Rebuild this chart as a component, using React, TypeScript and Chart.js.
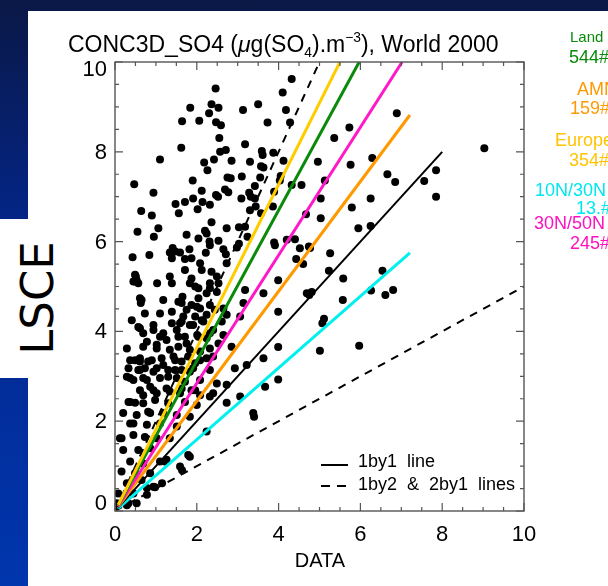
import React, { useEffect, useRef } from 'react';
import { Chart, registerables } from 'chart.js';
Chart.register(...registerables);

const obsX = [
  4.32, 2.46, 4.10, 2.36, 2.53, 1.84, 3.50, 3.13, 4.18, 2.30, 1.64, 2.06, 2.47, 2.59, 3.73, 4.28, 2.55, 3.18, 1.62, 2.57,
  2.71, 3.59, 3.61, 3.87, 1.10, 2.18, 2.42, 2.85, 3.30, 3.57, 3.63, 4.12, 2.26, 0.47, 1.90, 2.75, 2.83, 3.10, 3.55, 4.05,
  4.03, 4.32, 4.56, 2.69, 2.77, 3.42, 0.94, 2.12, 3.28, 3.89, 2.47, 2.52, 3.09, 3.32, 3.42, 1.91, 1.71, 1.48, 2.14, 2.32,
  0.64, 2.02, 1.56, 0.90, 3.30, 3.44, 3.57, 3.86, 2.36, 1.06, 0.55, 2.73, 3.03, 3.18, 3.24, 0.95, 1.75, 2.20, 2.24, 2.04,
  2.31, 2.53, 2.32, 0.43, 0.84, 1.41, 1.47, 1.59, 1.82, 1.34, 2.22, 2.65, 2.71, 2.98, 3.03, 3.89, 3.91, 4.20, 4.40, 4.74,
  4.43, 1.71, 1.87,
  6.89, 5.73, 5.36, 9.03, 6.29, 4.96, 5.76, 6.66, 6.85, 7.85, 7.56, 7.85, 5.13, 5.03, 6.25, 5.79, 4.67, 5.03, 5.95, 6.25,
  4.52, 4.77, 4.60, 5.26, 5.23, 5.58, 6.54, 4.81, 4.75, 6.26, 6.61, 6.80, 5.57, 5.11, 5.07, 5.01, 5.97,
  1.39, 2.73, 2.08, 2.12, 2.36, 1.71, 0.51, 0.49, 1.03, 1.34, 1.39, 1.83, 1.96, 2.32, 2.53, 2.49, 3.18, 3.63, 3.99, 4.69,
  0.65, 0.63, 1.18, 1.55, 1.65, 2.04, 1.87, 2.08, 2.32, 2.44, 2.65, 3.14, 3.99, 1.10, 1.39, 1.67, 1.96, 2.24, 2.73, 0.41,
  0.57, 0.94, 1.39, 1.63, 1.91, 2.16, 2.61, 3.06, 2.40, 1.18, 1.51, 1.10, 1.71, 2.01, 2.24, 2.65, 0.29, 0.69, 1.02, 1.34,
  1.55, 1.83, 2.08, 2.32, 2.85, 3.99, 0.61, 0.90, 1.14, 1.47, 1.79, 2.08, 2.40, 3.63, 0.33, 0.57, 1.02, 1.30, 1.63, 1.91,
  2.32, 2.93, 3.22, 0.37, 0.78, 1.10, 1.51, 1.71, 2.08, 2.49, 3.99, 3.67, 0.61, 0.94, 1.26, 1.59, 1.87, 2.08, 2.40, 3.06,
  0.33, 0.69, 0.98, 1.30, 1.71, 2.00, 2.73, 3.38, 3.40, 0.20, 0.53, 0.86, 1.18, 1.51, 1.83, 2.24, 0.37, 0.78, 1.10, 1.51,
  0.12, 0.45, 0.73, 1.02, 1.34, 0.20, 0.57, 0.86, 1.83, 0.37, 0.69, 1.10, 1.26, 1.59, 0.16, 0.49, 0.86, 0.29, 0.65, 0.94,
  0.08, 0.45, 0.78, 0.53, 0.29, 0.04,
  0.49, 0.16, 1.79, 1.22, 0.78, 0.33, 1.15, 0.98, 1.64,
  0.45, 0.61, 0.73, 0.61, 0.78, 0.37, 0.61, 0.73, 0.45, 0.29, 0.37, 0.69, 0.81, 0.45, 0.53,
  0.49, 0.57, 1.87, 2.04, 2.24, 2.32, 2.49, 1.63, 1.75, 2.00, 2.12, 1.59, 1.83, 0.94, 0.69, 1.02, 1.26, 1.55, 1.75, 2.04,
  2.32, 2.53, 0.49, 0.81, 1.18, 1.43, 1.63, 1.96, 2.24, 0.61, 0.94, 1.47, 1.83, 0.69, 1.30, 0.86, 1.02, 1.34, 1.63, 1.96,
  2.32, 2.73
];
const modY = [
  9.62, 9.41, 9.32, 9.06, 8.98, 8.98, 9.06, 8.93, 8.93, 8.86, 8.68, 8.69, 8.66, 8.59, 8.65, 8.65, 8.31, 8.17, 8.09, 8.00,
  8.04, 8.02, 7.93, 7.98, 7.83, 7.76, 7.83, 7.80, 7.78, 7.68, 7.65, 7.80, 7.59, 7.28, 7.36, 7.43, 7.41, 7.45, 7.43, 7.46,
  7.36, 7.26, 7.26, 7.16, 7.10, 7.24, 7.09, 7.13, 7.09, 7.11, 7.04, 7.00, 6.96, 7.00, 6.96, 6.96, 6.88, 6.84, 6.88, 6.82,
  6.68, 6.72, 6.63, 6.58, 6.70, 6.78, 6.63, 6.78, 6.43, 6.30, 6.22, 6.30, 6.32, 6.33, 6.11, 6.11, 6.15, 6.24, 6.18, 6.07,
  6.00, 6.02, 5.92, 5.65, 5.70, 5.86, 5.78, 5.76, 5.83, 5.76, 5.75, 5.83, 5.72, 5.87, 5.95, 5.98, 5.92, 6.04, 6.05, 5.89,
  5.61, 5.61, 5.63,
  8.86, 8.54, 8.31, 8.08, 7.86, 7.78, 7.71, 7.50, 7.33, 7.59, 7.35, 7.00, 7.36, 6.96, 6.96, 6.76, 6.61, 6.52, 6.30, 6.35,
  5.85, 5.86, 5.50, 5.74, 5.35, 5.18, 5.35, 4.88, 4.81, 4.91, 4.81, 4.92, 4.70, 4.28, 4.18, 3.57, 3.68,
  5.63, 5.52, 5.52, 5.37, 5.33, 5.37, 5.22, 5.11, 5.07, 5.22, 5.07, 5.07, 5.00, 4.96, 5.07, 5.22, 4.92, 4.85, 5.14, 4.85,
  4.70, 4.63, 4.70, 4.66, 4.77, 4.74, 4.59, 4.51, 4.59, 4.48, 4.51, 4.63, 4.44, 4.40, 4.44, 4.33, 4.33, 4.37, 4.37, 4.25,
  4.10, 4.14, 4.18, 4.22, 4.14, 4.22, 4.22, 4.33, 4.03, 3.96, 4.03, 3.88, 3.88, 3.92, 3.85, 3.92, 3.62, 3.66, 3.62, 3.59,
  3.66, 3.59, 3.55, 3.62, 3.66, 3.65, 3.40, 3.36, 3.40, 3.36, 3.44, 3.36, 3.44, 3.40, 3.18, 3.14, 3.18, 3.14, 3.14, 3.18,
  3.14, 3.18, 3.25, 2.96, 2.92, 2.96, 2.96, 2.88, 2.92, 2.84, 2.93, 2.77, 2.69, 2.69, 2.73, 2.62, 2.69, 2.58, 2.62, 2.55,
  2.43, 2.40, 2.47, 2.40, 2.43, 2.36, 2.41, 2.18, 2.10, 2.18, 2.14, 2.18, 2.18, 2.14, 2.10, 1.77, 1.95, 1.92, 1.95, 1.88,
  1.62, 1.69, 1.65, 1.62, 1.62, 1.36, 1.36, 1.40, 1.21, 1.10, 1.06, 1.10, 1.14, 0.99, 0.88, 0.84, 0.84, 0.62, 0.69, 0.54,
  0.39, 0.39, 0.36, 0.17, 0.13, 0.17,
  2.41, 1.62, 1.25, 1.10, 0.51, 0.17, 0.62, 0.53, 0.91,
  5.11, 4.74, 4.40, 4.07, 3.77, 3.36, 3.33, 3.18, 2.92, 2.99, 2.43, 2.58, 2.21, 1.95, 5.14,
  5.26, 5.07, 5.18, 4.96, 4.85, 5.07, 4.88, 4.63, 4.48, 4.55, 4.25, 4.18, 4.14, 4.03, 3.96, 3.70, 3.81, 3.88, 3.73, 3.88,
  3.96, 3.73, 3.36, 3.33, 3.25, 3.44, 3.33, 3.29, 3.40, 3.14, 3.10, 3.14, 3.10, 2.96, 2.99, 2.77, 2.62, 2.66, 2.73, 2.69,
  2.55, 2.81
];

// Regression lines per region and reference lines
const fitNames = ['Europe', 'Land', '30N/50N', 'AMN', '1by1', '10N/30N'];
const fitStartX = [0.08, 0.08, 0.08, 0.08, 0.08, 0.08];
const fitStartY = [0.14, 0.13, 0.11, 0.10, 0.08, 0.06];
const fitEndX = [5.50, 5.97, 7.02, 7.21, 8.00, 7.21];
const fitEndY = [10.0, 10.0, 10.0, 8.82, 8.00, 5.75];
const refNames = ['2by1', '1by2'];
const refEndX = [5, 10];
const refEndY = [10, 5];

const axisTicks = [0, 2, 4, 6, 8, 10];
const regionNames = ['Land', 'AMN', 'Europe', '10N/30N', '30N/50N'];
const regionCounts = ['544#', '159#', '354#', '13.#', '245#'];
const legendLabels = ['1by1  line', '1by2  &  2by1  lines'];

const fitColors: Record<string, string> = {
  Europe: '#FFCC00', Land: '#0A8A0A', '30N/50N': '#FF18C8', AMN: '#FF9900', '1by1': '#000000', '10N/30N': '#00F0F0',
};
const regionColors = ['#0A8A0A', '#FF9900', '#FFC400', '#00E6F0', '#FF10C0'];
const regionPos = [
  { x: 570, y: 36, fs: 15, ny: 57 },
  { x: 577, y: 89, fs: 18, ny: 108 },
  { x: 555, y: 140, fs: 18, ny: 160 },
  { x: 535, y: 190, fs: 18, ny: 208 },
  { x: 534, y: 223, fs: 18, ny: 243 },
];
const countX = [569, 570, 569, 576, 570];

const FONT = "'Liberation Sans', Arial, sans-serif";

const frameAndLegend = {
  id: 'frameAndLegend',
  afterDraw(chart: any) {
    const { ctx, chartArea: a } = chart;
    const xs = chart.scales.x;
    const ys = chart.scales.y;
    ctx.save();
    ctx.strokeStyle = '#555';
    ctx.lineWidth = 1.4;
    ctx.strokeRect(a.left, a.top, a.right - a.left, a.bottom - a.top);
    ctx.lineWidth = 1.2;
    ctx.beginPath();
    for (let i = 0; i <= 20; i++) {
      const v = i * 0.5;
      const len = i % 4 === 0 ? 8 : 4;
      const px = xs.getPixelForValue(v);
      ctx.moveTo(px, a.bottom); ctx.lineTo(px, a.bottom - len);
      ctx.moveTo(px, a.top); ctx.lineTo(px, a.top + len);
      const py = ys.getPixelForValue(v);
      ctx.moveTo(a.left, py); ctx.lineTo(a.left + len, py);
      ctx.moveTo(a.right, py); ctx.lineTo(a.right - len, py);
    }
    ctx.stroke();
    // y tick labels (end labels pulled inside the frame, as in the original)
    ctx.fillStyle = '#000';
    ctx.font = `22px ${FONT}`;
    ctx.textAlign = 'right';
    ctx.textBaseline = 'middle';
    axisTicks.forEach((v) => {
      const off = v === axisTicks[0] ? -7 : v === axisTicks[axisTicks.length - 1] ? 8 : 1;
      ctx.fillText(String(v), a.left - 8, ys.getPixelForValue(v) + off);
    });
    // legend
    const lx0 = a.right - 203, lx1 = a.right - 176, tx = a.right - 166;
    const y1 = a.bottom - 46, y2 = a.bottom - 25;
    ctx.strokeStyle = '#000';
    ctx.lineWidth = 2;
    ctx.beginPath(); ctx.moveTo(lx0, y1); ctx.lineTo(lx1, y1); ctx.stroke();
    ctx.setLineDash([9, 7]);
    ctx.beginPath(); ctx.moveTo(lx0, y2); ctx.lineTo(lx1 + 2, y2); ctx.stroke();
    ctx.setLineDash([]);
    ctx.font = `18px ${FONT}`;
    ctx.textAlign = 'left';
    ctx.fillText(legendLabels[0], tx, y1 - 3);
    ctx.fillText(legendLabels[1], tx, y2 - 1);
    ctx.restore();
  },
};

export default function App() {
  const ref = useRef<HTMLCanvasElement>(null);
  useEffect(() => {
    document.body.style.margin = '0';
    const pts = obsX.map((x, i) => ({ x, y: modY[i] }));
    const fitSets = fitNames.map((n, i) => ({
      label: n,
      data: [{ x: fitStartX[i], y: fitStartY[i] }, { x: fitEndX[i], y: fitEndY[i] }],
      showLine: true,
      borderColor: fitColors[n],
      borderWidth: n === '1by1' ? 2 : 3,
      pointRadius: 0,
      order: 0,
    }));
    const refSets = refNames.map((n, i) => ({
      label: n,
      data: [{ x: 0, y: 0 }, { x: refEndX[i], y: refEndY[i] }],
      showLine: true,
      borderColor: '#000',
      borderWidth: 2,
      borderDash: [8, 7],
      pointRadius: 0,
      order: 0,
    }));
    const chart = new Chart(ref.current!, {
      type: 'scatter',
      data: {
        datasets: [
          ...fitSets,
          ...refSets,
          { label: 'points', data: pts, pointRadius: 4, backgroundColor: '#000', borderWidth: 0, order: 5 },
        ] as any,
      },
      options: {
        animation: false,
        responsive: false,
        events: [],
        layout: { padding: { left: 0, top: 62, right: 84, bottom: 0 } },
        plugins: { legend: { display: false }, tooltip: { enabled: false } },
        scales: {
          x: {
            type: 'linear', min: 0, max: 10,
            afterFit: (s: any) => { s.height = 75; },
            afterBuildTicks: (s: any) => { s.ticks = axisTicks.map((v) => ({ value: v })); },
            grid: { display: false, drawTicks: false },
            border: { display: false },
            ticks: { padding: 11, color: '#000', font: { family: FONT, size: 22 }, maxRotation: 0 },
          },
          y: {
            type: 'linear', min: 0, max: 10,
            afterFit: (s: any) => { s.width = 115; },
            afterBuildTicks: (s: any) => { s.ticks = axisTicks.map((v) => ({ value: v })); },
            grid: { display: false, drawTicks: false },
            border: { display: false },
            ticks: { display: false },
          },
        },
      } as any,
      plugins: [frameAndLegend],
    });
    return () => chart.destroy();
  }, []);

  return (
    <div style={{ position: 'relative', width: 608, height: 586, overflow: 'hidden',
      background: 'linear-gradient(180deg, #0a1846 0%, #03268a 40%, #0036ae 100%)' }}>
      <div style={{ position: 'absolute', left: 28, top: 11, right: 0, bottom: 0, background: '#fff' }} />
      <div style={{ position: 'absolute', left: 0, top: 219, width: 30, height: 159, background: '#fff' }} />
      <div style={{ position: 'absolute', left: 37, top: 298, transform: 'translate(-50%, -50%) rotate(-90deg)',
        fontFamily: "'DejaVu Sans', sans-serif", fontSize: 45, lineHeight: 1, color: '#000', whiteSpace: 'nowrap' }}>LSCE</div>
      <canvas ref={ref} width={608} height={586} style={{ position: 'absolute', left: 0, top: 0 }} />
      <div style={{ position: 'absolute', left: 68, top: 33, fontFamily: FONT, fontSize: 23, lineHeight: 1,
        color: '#000', whiteSpace: 'pre' }}>
        {'CONC3D_SO4 ('}<i>μ</i>{'g(SO'}
        <span style={{ fontSize: '0.6em', position: 'relative', top: '0.35em' }}>4</span>
        {').m'}
        <span style={{ fontSize: '0.6em', position: 'relative', top: '-0.7em' }}>−3</span>
        {'), World 2000'}
      </div>
      <div style={{ position: 'absolute', left: 320, top: 560, transform: 'translate(-50%, -50%)', fontFamily: FONT,
        fontSize: 20, lineHeight: 1, color: '#000' }}>DATA</div>
      {regionNames.map((n, i) => (
        <React.Fragment key={n}>
          <div style={{ position: 'absolute', left: regionPos[i].x, top: regionPos[i].y, transform: 'translateY(-50%)',
            fontFamily: FONT, fontSize: regionPos[i].fs, lineHeight: 1, color: regionColors[i], whiteSpace: 'nowrap' }}>{n}</div>
          <div style={{ position: 'absolute', left: countX[i], top: regionPos[i].ny, transform: 'translateY(-50%)',
            fontFamily: FONT, fontSize: 18, lineHeight: 1, color: regionColors[i], whiteSpace: 'nowrap' }}>{regionCounts[i]}</div>
        </React.Fragment>
      ))}
    </div>
  );
}
